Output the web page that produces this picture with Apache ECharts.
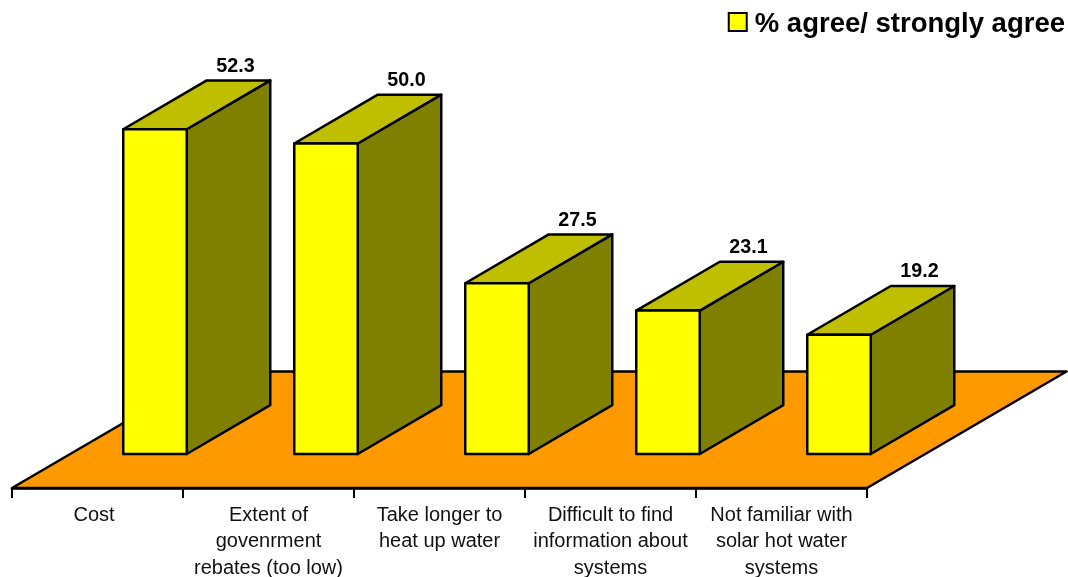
<!DOCTYPE html>
<html>
<head>
<meta charset="utf-8">
<style>html,body{margin:0;padding:0;background:#fff}#chart{width:1068px;height:577px}</style>
<script src="https://cdn.jsdelivr.net/npm/echarts@6/dist/echarts.min.js"></script>
</head>
<body>
<div id="chart"></div>
<script>
// Survey responses: barriers to adopting solar hot water
const categories = [
  'Cost',
  'Extent of\ngovenrment\nrebates (too low)',
  'Take longer to\nheat up water',
  'Difficult to find\ninformation about\nsystems',
  'Not familiar with\nsolar hot water\nsystems'
];
const agreeValues = [52.3, 50.0, 27.5, 23.1, 19.2];
const valueLabels = ['52.3', '50.0', '27.5', '23.1', '19.2'];
const seriesName = '% agree/ strongly agree';

// Oblique projection used for the pseudo-3D look (pixels)
const FONT = '"Liberation Sans", Arial, sans-serif';
const BAR_WIDTH = 63.5;
const BAR_SHIFT = 57.5;      // bars sit further back than the band centre
const BAR_DEPTH = [83.5, -48.8];
const FLOOR_DEPTH = [199.5, -116.5];
const FLOOR_DROP = 34;       // floor's front edge below the bars' base
const EDGE = { stroke: '#000', lineWidth: 2.5, lineJoin: 'round' };

// Right padding per category label, nudging the text off the band centre
const LABEL_STYLE = { fontFamily: FONT, fontSize: 20, lineHeight: 26.5, color: '#111' };
const labelRich = {
  a: Object.assign({ padding: [0, 7, 0, 0] }, LABEL_STYLE),
  b: Object.assign({}, LABEL_STYLE)
};
const labelTags = ['a', 'b', 'b', 'b', 'b'];

function renderFloor(params, api) {
  const r = params.coordSys;
  const y = r.y + r.height + FLOOR_DROP;
  const x0 = r.x, x1 = r.x + r.width;
  return {
    type: 'polygon',
    silent: true,
    shape: { points: [
      [x0, y], [x1, y],
      [x1 + FLOOR_DEPTH[0], y + FLOOR_DEPTH[1]],
      [x0 + FLOOR_DEPTH[0], y + FLOOR_DEPTH[1]]
    ] },
    style: Object.assign({ fill: '#ff9900' }, EDGE)
  };
}

function renderBar(params, api) {
  const top = api.coord([api.value(0), api.value(1)]);
  const base = api.coord([api.value(0), 0]);
  const xl = top[0] + BAR_SHIFT - BAR_WIDTH / 2;
  const xr = xl + BAR_WIDTH;
  const yt = top[1], yb = base[1];
  const dx = BAR_DEPTH[0], dy = BAR_DEPTH[1];
  return {
    type: 'group',
    children: [
      { type: 'polygon',
        shape: { points: [[xr, yt], [xr + dx, yt + dy], [xr + dx, yb + dy], [xr, yb]] },
        style: Object.assign({ fill: '#808000' }, EDGE) },
      { type: 'polygon',
        shape: { points: [[xl, yt], [xl + dx, yt + dy], [xr + dx, yt + dy], [xr, yt]] },
        style: Object.assign({ fill: '#bfbf00' }, EDGE) },
      { type: 'rect',
        shape: { x: xl, y: yt, width: BAR_WIDTH, height: yb - yt },
        style: Object.assign({ fill: '#ffff00' }, EDGE) },
      { type: 'text',
        x: xl + dx + BAR_WIDTH / 2 - 3,
        y: yt + dy - 4,
        style: {
          text: valueLabels[params.dataIndex],
          font: 'bold 19.7px ' + FONT,
          fill: '#000',
          align: 'center',
          verticalAlign: 'bottom'
        } }
    ]
  };
}

const chart = echarts.init(document.getElementById('chart'), null, { renderer: 'canvas' });
chart.setOption({
  animation: false,
  backgroundColor: '#fff',
  grid: { left: 12, right: 201, top: 81.4, bottom: 123, outerBoundsMode: 'none' },
  legend: {
    top: 10,
    right: 3,
    icon: 'rect',
    itemWidth: 18,
    itemHeight: 18,
    itemGap: 0,
    padding: 0,
    data: [seriesName],
    selectedMode: false,
    formatter: name => '{t|' + name + '}',
    textStyle: {
      rich: {
        t: { fontFamily: FONT, fontWeight: 'bold', fontSize: 27.5, color: '#000', padding: [4, 0, 0, 3] }
      }
    }
  },
  xAxis: {
    type: 'category',
    data: categories,
    offset: FLOOR_DROP,
    z: 2,
    axisLine: { show: true, onZero: false, lineStyle: { color: '#000', width: 2.5 } },
    axisTick: { show: true, alignWithLabel: false, length: 10, lineStyle: { color: '#000', width: 2 } },
    axisLabel: {
      interval: 0,
      margin: 14,
      verticalAlign: 'top',
      lineHeight: 26.5,
      formatter: (value, index) =>
        value.split('\n').map(line => '{' + labelTags[index] + '|' + line + '}').join('\n'),
      rich: labelRich
    }
  },
  yAxis: { type: 'value', min: 0, max: 60, show: false },
  series: [
    {
      type: 'custom',
      name: 'floor',
      silent: true,
      clip: false,
      renderItem: renderFloor,
      data: [[0, 0]],
      encode: { x: 0, y: 1 },
      z: 1
    },
    {
      type: 'custom',
      name: seriesName,
      clip: false,
      renderItem: renderBar,
      itemStyle: { color: '#ffff00', borderColor: '#000', borderWidth: 2.5 },
      data: categories.map((c, i) => [i, agreeValues[i]]),
      encode: { x: 0, y: 1 },
      z: 3
    }
  ]
});
</script>
</body>
</html>
